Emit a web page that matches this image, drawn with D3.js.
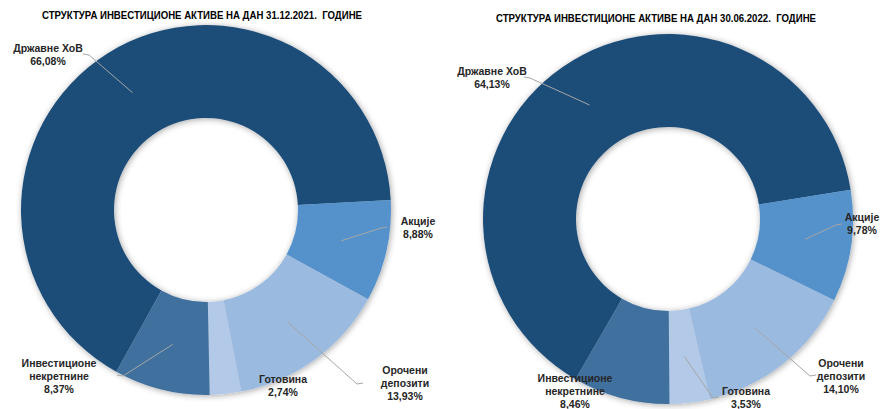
<!DOCTYPE html>
<html>
<head>
<meta charset="utf-8">
<script src="https://cdn.jsdelivr.net/npm/d3@7"></script>
<style>
  body { margin: 0; background: #fff; }
  svg text { font-family: "Liberation Sans Narrow", "Arial Narrow", "Liberation Sans", Arial, sans-serif; font-weight: bold; white-space: pre; }
</style>
</head>
<body>
<svg id="chart" width="888" height="409"></svg>
<script>
// categories, same order for both charts
const categories = ["Државне ХоВ", "Акције", "Орочени депозити", "Готовина", "Инвестиционе некретнине"];
const labelLines = [["Државне ХоВ"], ["Акције"], ["Орочени", "депозити"], ["Готовина"], ["Инвестиционе", "некретнине"]];
const values2021 = [66.08, 8.88, 13.93, 2.74, 8.37];
const values2022 = [64.13, 9.78, 14.10, 3.53, 8.46];
const titles = ["СТРУКТУРА ИНВЕСТИЦИОНЕ АКТИВЕ НА ДАН 31.12.2021.  ГОДИНЕ",
                "СТРУКТУРА ИНВЕСТИЦИОНЕ АКТИВЕ НА ДАН 30.06.2022.  ГОДИНЕ"];

const colors = ["#1f4e79", "#5592cb", "#9bbae0", "#b2c9e8", "#41709e"];
const outerR = 185, innerR = 92;

// label placement, relative to the donut centre: text anchor + leader start
const layouts = [
  { cx: 206, cy: 210, titleX: 202, titleY: 19, start: 209,
    labels: [ {x: -158, y: -158, lx: -123, ly: -156},
              {x: 212, y: 15, lx: 181, ly: 17},
              {x: 199, y: 164, lx: 157, ly: 173},
              {x: 77, y: 173},
              {x: -147, y: 157, lx: -89, ly: 165} ] },
  { cx: 668, cy: 219, titleX: 656, titleY: 22, start: 210,
    labels: [ {x: -176, y: -144, lx: -144, ly: -142},
              {x: 194, y: 2, lx: 174, ly: 5},
              {x: 173, y: 148, lx: 148, ly: 156},
              {x: 78, y: 176, lx: 51, ly: 178},
              {x: -93, y: 163} ] }
];

const locale = d3.formatLocale({decimal: ",", thousands: ".", grouping: [3], currency: ["", ""]});
const fmt = locale.format(".2f");

const svg = d3.select("#chart");

const defs = svg.append("defs");
defs.append("filter").attr("id", "shadow")
  .attr("x", "-10%").attr("y", "-10%").attr("width", "120%").attr("height", "120%")
  .append("feDropShadow")
  .attr("dx", 1).attr("dy", 1).attr("stdDeviation", 3)
  .attr("flood-color", "#000").attr("flood-opacity", 0.35);

const arc = d3.arc().innerRadius(innerR).outerRadius(outerR);
const midArc = d3.arc().innerRadius((innerR + outerR) / 2).outerRadius((innerR + outerR) / 2);

function drawDonut(values, lay, title) {
  const pie = d3.pie().sort(null)
    .startAngle(lay.start * Math.PI / 180)
    .endAngle((lay.start + 360) * Math.PI / 180);
  const arcs = pie(values);

  const g = svg.append("g").attr("transform", `translate(${lay.cx},${lay.cy})`);

  g.append("g").attr("filter", "url(#shadow)")
    .selectAll("path")
    .data(arcs)
    .enter()
    .append("path")
    .attr("d", arc)
    .attr("fill", (d, i) => colors[i]);

  // leader lines
  arcs.forEach((d, i) => {
    const l = lay.labels[i];
    if (l.lx === undefined) return;
    const c = midArc.centroid(d);
    const dir = c[0] > l.lx ? 1 : -1;
    g.append("polyline")
      .attr("points", [[l.lx, l.ly], [l.lx + dir * 6, l.ly + 1], c].map(p => p.join(",")).join(" "))
      .attr("fill", "none")
      .attr("stroke", "#a6a6a6")
      .attr("stroke-width", 1);
  });

  // labels
  arcs.forEach((d, i) => {
    const l = lay.labels[i];
    const t = g.append("text")
      .attr("text-anchor", "middle")
      .attr("font-size", 10.5)
      .attr("fill", "#262626");
    const lines = labelLines[i].concat([fmt(values[i]) + "%"]);
    lines.forEach((s, k) => {
      t.append("tspan").attr("x", l.x).attr("y", l.y + k * 13).text(s);
    });
  });

  svg.append("text")
    .attr("x", lay.titleX).attr("y", lay.titleY)
    .attr("text-anchor", "middle")
    .attr("font-size", 11)
    .attr("textLength", 320)
    .attr("lengthAdjust", "spacingAndGlyphs")
    .attr("fill", "#000")
    .text(title);
}

drawDonut(values2021, layouts[0], titles[0]);
drawDonut(values2022, layouts[1], titles[1]);
</script>
</body>
</html>
